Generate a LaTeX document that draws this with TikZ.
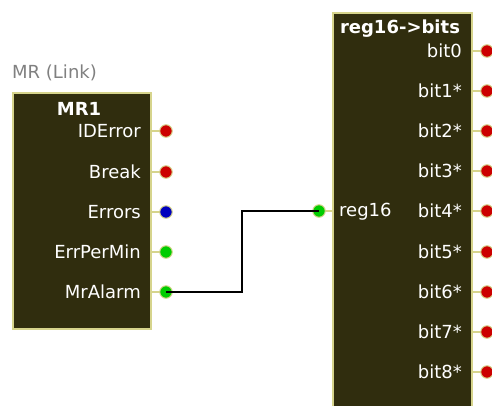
\documentclass[tikz,border=0pt]{standalone}
\usepackage{fontspec}
\setmainfont{DejaVu Sans}
\usetikzlibrary{positioning}
\definecolor{blockfill}{RGB}{48,45,14}
\definecolor{blockline}{RGB}{214,212,140}
\definecolor{pinred}{RGB}{204,0,0}
\definecolor{pinblue}{RGB}{0,0,190}
\definecolor{pingreen}{RGB}{0,204,0}

\begin{document}
\begin{tikzpicture}[x=1pt,y=-1pt,font=\fontsize{18}{21}\selectfont]
        \tikzstyle{block}=[draw=blockline, fill=blockfill, line width=2pt, inner sep=0pt, anchor=north west]
        \tikzstyle{pin}=[circle, draw=blockline, line width=1pt, inner sep=0pt, minimum size=12.5pt]
        \tikzstyle{stub}=[draw=blockline, line width=2.2pt]
        \tikzstyle{port}=[text=white, inner sep=0pt]
        \tikzstyle{wire}=[draw=black, line width=2.2pt]

        \useasboundingbox (0,0) rectangle (492,405);

        % MR block
        \node[text=gray, inner sep=0pt, anchor=west] (MRlink) at (12,73) {MR (Link)};
        \node[block, minimum width=138pt, minimum height=236pt] (MR) at (12,92) {};
        \node[port, font=\fontsize{18}{21}\selectfont\bfseries] (MRtitle) at (79,109) {MR1};
        \foreach \name/\y/\col in {IDError/131/pinred, Break/172/pinred, Errors/212/pinblue,
                ErrPerMin/252/pingreen, MrAlarm/292/pingreen}{
          \draw[stub] (150,\y) -- (166,\y);
          \node[pin, fill=\col] (\name) at (166,\y) {};
          \node[port, anchor=east] (\name-l) at (141,\y) {\name};
        }

        % reg16->bits block
        \node[block, minimum width=139pt, minimum height=400pt] (RB) at (332,12) {};
        \node[port, font=\fontsize{18}{21}\selectfont\bfseries] (RBtitle) at (400,29) {reg16->bits};
        \foreach \i/\y/\txt in {0/51/bit0, 1/91/bit1*, 2/131/bit2*, 3/171/bit3*, 4/211/bit4*,
                5/252/bit5*, 6/292/bit6*, 7/332/bit7*, 8/372/bit8*}{
          \draw[stub] (471,\y) -- (487,\y);
          \node[pin, fill=pinred] (bit\i) at (487,\y) {};
          \node[port, anchor=east] (bit\i-l) at (462,\y) {\txt};
        }
        \draw[stub] (319,211) -- (332,211);
        \node[pin, fill=pingreen] (reg16) at (319,211) {};
        \node[port, anchor=west] (reg16-l) at (339,212) {reg16};

        % connection
        \coordinate (bend) at (242,250);
        \draw[wire] (MrAlarm.center) -| (bend) |- (reg16.center);
\end{tikzpicture}
\end{document}
